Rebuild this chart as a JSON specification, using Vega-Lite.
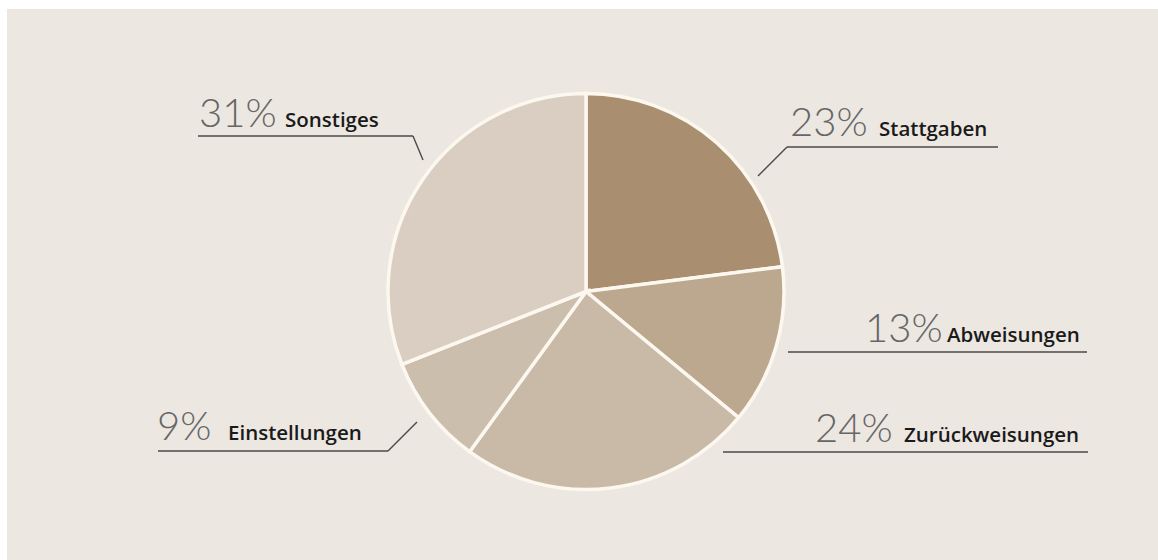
{
  "$schema": "https://vega.github.io/schema/vega-lite/v6.json",
  "width": 1151,
  "height": 551,
  "padding": {"left": 7, "top": 9, "right": 0, "bottom": 0},
  "autosize": {"type": "none"},
  "background": "#ffffff",
  "config": {"view": {"fill": "#ece7e1", "stroke": null}},
  "datasets": {
    "slices": [
      {"category": "Stattgaben", "value": 23, "idx": 1},
      {"category": "Abweisungen", "value": 13, "idx": 2},
      {"category": "Zurückweisungen", "value": 24, "idx": 3},
      {"category": "Einstellungen", "value": 9, "idx": 4},
      {"category": "Sonstiges", "value": 31, "idx": 5}
    ],
    "labels": [
      {"category": "Sonstiges", "pct": "31%", "px": -387, "lx": -301, "y": 164.5},
      {"category": "Stattgaben", "pct": "23%", "px": 204, "lx": 293, "y": 155.5},
      {"category": "Abweisungen", "pct": "13%", "px": 279, "lx": 361, "y": -50.5},
      {"category": "Zurückweisungen", "pct": "24%", "px": 229, "lx": 318, "y": -150.5},
      {"category": "Einstellungen", "pct": "9%", "px": -429, "lx": -358, "y": -148.5}
    ],
    "lines": [
      {"category": "Sonstiges", "x": -388, "y": 155.5, "x2": -173, "y2": 155.5},
      {"category": "Sonstiges", "x": -173, "y": 155.5, "x2": -163, "y2": 131.5},
      {"category": "Stattgaben", "x": 201, "y": 144.5, "x2": 412, "y2": 144.5},
      {"category": "Stattgaben", "x": 201, "y": 144.5, "x2": 172, "y2": 115.5},
      {"category": "Abweisungen", "x": 202, "y": -60.5, "x2": 501, "y2": -60.5},
      {"category": "Zurückweisungen", "x": 137, "y": -160.5, "x2": 502, "y2": -160.5},
      {"category": "Einstellungen", "x": -428, "y": -159.5, "x2": -198, "y2": -159.5},
      {"category": "Einstellungen", "x": -198, "y": -159.5, "x2": -169, "y2": -130.5}
    ]
  },
  "layer": [
    {
      "data": {"name": "slices"},
      "mark": {"type": "arc", "outerRadius": 198, "stroke": "#fdf8ef", "strokeWidth": 3.5},
      "encoding": {
        "theta": {"field": "value", "type": "quantitative", "stack": true},
        "order": {"field": "idx", "type": "quantitative"},
        "color": {
          "field": "category", "type": "nominal", "legend": null,
          "scale": {
            "domain": ["Stattgaben", "Abweisungen", "Zurückweisungen", "Einstellungen", "Sonstiges"],
            "range": ["#a98e6f", "#bba88f", "#c9baa7", "#ccbead", "#d9cec1"]
          }
        },
        "x": {"datum": 0, "type": "quantitative", "scale": {"domain": [-579, 572], "nice": false, "zero": false}, "axis": null},
        "y": {"datum": 0, "type": "quantitative", "scale": {"domain": [-268.5, 282.5], "nice": false, "zero": false}, "axis": null}
      }
    },
    {
      "data": {"name": "lines"},
      "mark": {"type": "rule", "color": "#4a4a4a", "strokeWidth": 1.4},
      "encoding": {
        "x": {"field": "x", "type": "quantitative"},
        "y": {"field": "y", "type": "quantitative"},
        "x2": {"field": "x2"},
        "y2": {"field": "y2"}
      }
    },
    {
      "data": {"name": "labels"},
      "mark": {"type": "text", "align": "left", "baseline": "alphabetic", "font": "Lato", "fontWeight": 300, "fontSize": 40, "color": "#666666"},
      "encoding": {
        "x": {"field": "px", "type": "quantitative"},
        "y": {"field": "y", "type": "quantitative"},
        "text": {"field": "pct"}
      }
    },
    {
      "data": {"name": "labels"},
      "mark": {"type": "text", "align": "left", "baseline": "alphabetic", "font": "Open Sans", "fontWeight": 600, "fontSize": 20.5, "color": "#1a1a1a"},
      "encoding": {
        "x": {"field": "lx", "type": "quantitative"},
        "y": {"field": "y", "type": "quantitative"},
        "text": {"field": "category"}
      }
    }
  ]
}
